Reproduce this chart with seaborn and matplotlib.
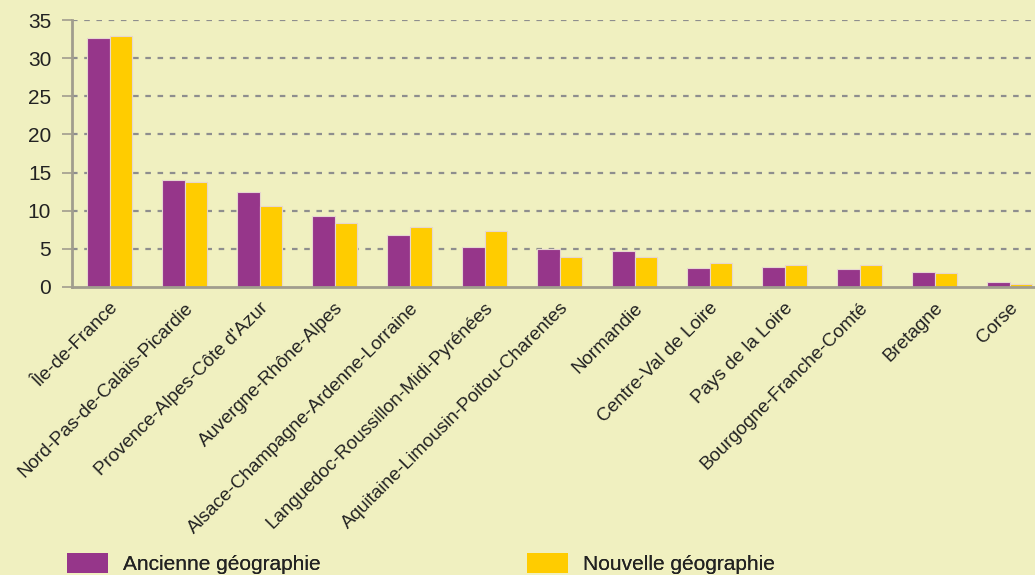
import numpy as np
import pandas as pd
import matplotlib
matplotlib.use("Agg")
import matplotlib.pyplot as plt
import matplotlib.transforms as mtransforms
import seaborn as sns
from matplotlib.patches import Patch

regions = ["Île-de-France", "Nord-Pas-de-Calais-Picardie", "Provence-Alpes-Côte d'Azur",
           "Auvergne-Rhône-Alpes", "Alsace-Champagne-Ardenne-Lorraine",
           "Languedoc-Roussillon-Midi-Pyrénées", "Aquitaine-Limousin-Poitou-Charentes",
           "Normandie", "Centre-Val de Loire", "Pays de la Loire",
           "Bourgogne-Franche-Comté", "Bretagne", "Corse"]
ancienne = [32.6, 14.0, 12.45, 9.3, 6.8, 5.25, 4.98, 4.72, 2.45, 2.66, 2.4, 1.92, 0.61]
nouvelle = [32.9, 13.7, 10.6, 8.4, 7.8, 7.3, 3.93, 3.93, 3.15, 2.88, 2.88, 1.88, 0.35]
series = ["Ancienne géographie", "Nouvelle géographie"]
yticks = [0, 5, 10, 15, 20, 25, 30, 35]

purple = "#96368A"
yellow = "#FFCC00"
bg = "#F0F0C0"
grey = "#A19D8E"

df = pd.DataFrame({
    "region": regions * 2,
    "serie": [series[0]] * len(regions) + [series[1]] * len(regions),
    "valeur": ancienne + nouvelle,
})

sns.set_theme(style="white")
plt.rcParams["font.family"] = ["Liberation Sans", "DejaVu Sans"]

fig = plt.figure(figsize=(10.35, 5.75), dpi=100, facecolor=bg)
W, H = 1035, 575
ax = fig.add_axes([72 / W, (H - 287) / H, 975 / W, 267 / H])
ax.set_facecolor(bg)

sns.barplot(data=df, x="region", y="valeur", hue="serie", order=regions,
            hue_order=series, palette=[purple, yellow], width=0.59, saturation=1,
            edgecolor="#E6D6D0", linewidth=0.8, ax=ax, legend=False)

ax.set_xlim(-0.5, len(regions) - 0.5)
ax.set_ylim(0, 35)
ax.set_yticks(yticks)
ax.set_yticklabels([str(v) for v in yticks], fontsize=15, color="#222222")
ax.set_xlabel("")
ax.set_ylabel("")

for v in yticks[1:]:
    ax.axhline(v, color="#8E8E8E", linewidth=1.6, linestyle=(0, (2.5, 3)), zorder=0)

ax.set_xticks(np.arange(len(regions)))
labels = ax.set_xticklabels(regions, rotation=45, ha="right", va="top",
                            rotation_mode="anchor", fontsize=13.6, color="#222222")
shift = mtransforms.ScaledTranslation(-6 / 100, 0, fig.dpi_scale_trans)
for lab in ax.get_xticklabels():
    lab.set_transform(lab.get_transform() + shift)
ax.set_xticks(np.arange(-0.5, len(regions), 1), minor=True)
ax.tick_params(axis="x", which="major", length=0, pad=9)
ax.tick_params(axis="x", which="minor", length=5, width=1.2, color=grey, direction="out")
ax.tick_params(axis="y", length=7, width=1.2, color=grey, direction="out", pad=8, left=True)

for s in ["top", "right"]:
    ax.spines[s].set_visible(False)
for s in ["left", "bottom"]:
    ax.spines[s].set_color(grey)
    ax.spines[s].set_linewidth(2)

# legend
for i, (name, col, x0) in enumerate(zip(series, [purple, yellow], [67, 527])):
    leg = fig.legend(handles=[Patch(facecolor=col, edgecolor="none", label=name)],
                     loc="lower left", bbox_to_anchor=(x0 / W, 1 / H),
                     frameon=False, fontsize=15, handlelength=1.95, handleheight=1.15,
                     handletextpad=0.75, borderpad=0, borderaxespad=0)
    for t in leg.get_texts():
        t.set_color("#222222")
    fig.add_artist(leg)

fig.savefig("out.png", dpi=100, facecolor=bg)
